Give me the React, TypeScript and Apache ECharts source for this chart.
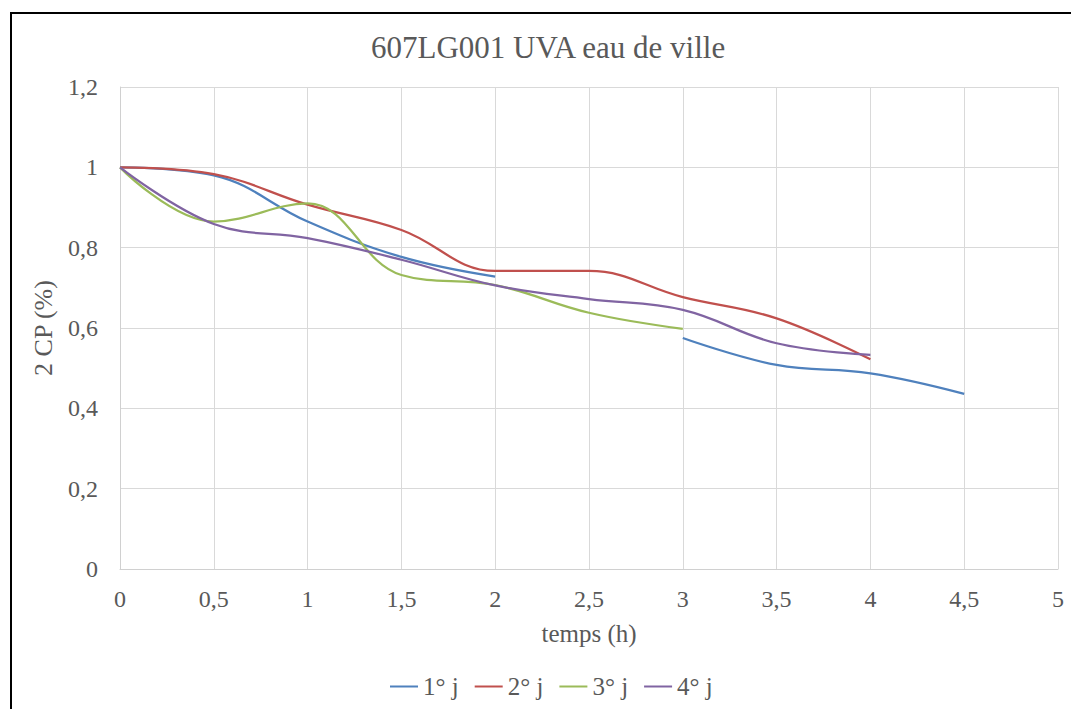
import React, { useEffect, useRef } from "react";
import * as echarts from "echarts";

// Measurement times (hours)
const hours = [0, 0.5, 1, 1.5, 2, 2.5, 3, 3.5, 4, 4.5];

// Relative values per day (null = no measurement)
const day1 = [1, 0.98, 0.865, 0.777, 0.728, null, 0.575, 0.508, 0.487, 0.436];
const day2 = [1, 0.983, 0.907, 0.844, 0.742, 0.742, 0.677, 0.624, 0.522];
const day3 = [1, 0.865, 0.91, 0.732, 0.707, 0.638, 0.598];
const day4 = [1, 0.859, 0.824, 0.77, 0.706, 0.672, 0.645, 0.562, 0.533];

const seriesNames = ["1° j", "2° j", "3° j", "4° j"];
const seriesColors = ["#4F81BD", "#C0504D", "#9BBB59", "#8064A2"];

const FONT = "Liberation Serif";
const TEXT = "#595959";

const toPairs = (vals: (number | null)[]) =>
  vals.map((v, i) => [hours[i], v === null ? "-" : v]);

const fmt = (v: number) => String(Math.round(v * 100) / 100).replace(".", ",");

export default function App() {
  const ref = useRef<HTMLDivElement>(null);

  useEffect(() => {
    if (!ref.current) return;
    const chart = echarts.init(ref.current, undefined, { renderer: "svg" });
    const allData = [day1, day2, day3, day4];
    chart.setOption({
      animation: false,
      backgroundColor: "#ffffff",
      textStyle: { fontFamily: FONT },
      title: {
        text: "607LG001 UVA eau de ville",
        left: 366,
        top: 27,
        textStyle: { fontFamily: FONT, fontSize: 31, fontWeight: "normal", color: TEXT },
      },
      legend: {
        top: 669,
        left: 385,
        icon: "rect",
        itemWidth: 28,
        itemHeight: 2,
        itemGap: 16,
        textStyle: { fontFamily: FONT, fontSize: 25, color: TEXT },
        data: seriesNames,
      },
      grid: { left: 120, right: 13, top: 87, bottom: 140, containLabel: false },
      xAxis: {
        type: "value",
        min: 0,
        max: 5,
        interval: 0.5,
        name: "temps (h)",
        nameLocation: "middle",
        nameGap: 52,
        nameTextStyle: { fontFamily: FONT, fontSize: 25, color: TEXT },
        axisLine: { show: true, onZero: false, lineStyle: { color: "#d0d0d0", width: 1 } },
        axisTick: { show: false },
        axisLabel: {
          fontFamily: FONT,
          fontSize: 24,
          color: TEXT,
          margin: 18,
          formatter: fmt,
        },
        splitLine: { show: true, lineStyle: { color: "#d9d9d9", width: 1 } },
      },
      yAxis: {
        type: "value",
        min: 0,
        max: 1.2,
        interval: 0.2,
        name: "2 CP (%)",
        nameLocation: "middle",
        nameGap: 64,
        nameTextStyle: { fontFamily: FONT, fontSize: 26, color: TEXT },
        axisLine: { show: true, lineStyle: { color: "#d0d0d0", width: 1 } },
        axisTick: { show: false },
        axisLabel: {
          fontFamily: FONT,
          fontSize: 24,
          color: TEXT,
          margin: 22,
          formatter: fmt,
        },
        splitLine: { show: true, lineStyle: { color: "#d9d9d9", width: 1 } },
      },
      series: allData.map((d, i) => ({
        name: seriesNames[i],
        type: "line",
        data: toPairs(d),
        smooth: 0.4,
        symbol: "none",
        connectNulls: false,
        lineStyle: { color: seriesColors[i], width: 2.25 },
        itemStyle: { color: seriesColors[i] },
      })),
      graphic: [
        {
          type: "rect",
          silent: true,
          shape: { x: 11, y: 13, width: 1100, height: 800 },
          style: { fill: "none", stroke: "#000000", lineWidth: 2 },
        },
      ],
    });
    return () => chart.dispose();
  }, []);

  return (
    <div
      ref={ref}
      style={{ position: "fixed", left: 0, top: 0, width: 1071, height: 709, background: "#fff" }}
    />
  );
}
